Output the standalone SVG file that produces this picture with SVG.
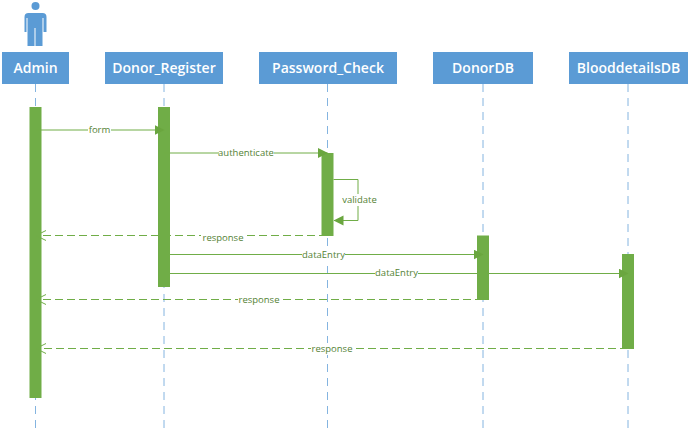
<svg xmlns="http://www.w3.org/2000/svg" width="689" height="435" viewBox="0 0 689 435">
<defs>
<marker id="solid" markerUnits="userSpaceOnUse" markerWidth="12" markerHeight="12" refX="9.5" refY="5" orient="auto"><path d="M0,0 L10,5 L0,10 Z" fill="#6aa63f"/></marker>
<marker id="open" markerUnits="userSpaceOnUse" markerWidth="12" markerHeight="12" refX="10" refY="5" orient="auto"><path d="M0,0 L10,5 L0,10" fill="none" stroke="#70ad47"/></marker>
</defs>
<style>
text{font-family:"Open Sans","Liberation Sans",sans-serif}
.box{fill:#5b9bd5}
.name{fill:#fff;font-size:14px;font-weight:600;text-anchor:middle}
.life{stroke:#5b9bd5;stroke-width:1;stroke-dasharray:8 6;fill:none;opacity:.75}
.bar{fill:#70ad47}
.msg{stroke:#70ad47;stroke-width:1;fill:none}
.dash{stroke-dasharray:8 4}
.lab{fill:#548235;font-size:9.5px;text-anchor:middle}
.bg{fill:#fff}
</style>
<rect width="689" height="435" fill="#fff"/>
<g id="lifelines">
<path class="life" d="M35.5,84V434"/>
<path class="life" d="M164,84V434"/>
<path class="life" d="M327.5,84V434"/>
<path class="life" d="M483,84V434"/>
<path class="life" d="M628,84V434"/>
</g>
<g id="actor-figure" fill="#5b9bd5">
<circle cx="35.5" cy="6" r="4"/>
<path d="M24.5,17q0,-4 4,-4h14q4,0 4,4v15h-3v-14h-1v28h-7v-18h-1v18h-7v-28h-1v14h-2z"/>
</g>
<g id="node-admin"><rect class="box" x="2" y="52" width="67" height="32"/><text class="name" x="35.5" y="73">Admin</text></g>
<g id="node-donor-register"><rect class="box" x="105" y="52" width="118" height="32"/><text class="name" x="164" y="73">Donor_Register</text></g>
<g id="node-password-check"><rect class="box" x="259" y="52" width="138" height="32"/><text class="name" x="328" y="73">Password_Check</text></g>
<g id="node-donordb"><rect class="box" x="433" y="52" width="100" height="32"/><text class="name" x="483" y="73">DonorDB</text></g>
<g id="node-blooddetailsdb"><rect class="box" x="569" y="52" width="119" height="32"/><text class="name" x="628.5" y="73">BlooddetailsDB</text></g>
<g id="activations">
<rect class="bar" x="29.5" y="107" width="12" height="291"/>
<rect class="bar" x="158" y="107" width="12" height="180"/>
<rect class="bar" x="321.5" y="153" width="12" height="83"/>
<rect class="bar" x="477" y="235.5" width="12" height="64.5"/>
<rect class="bar" x="622" y="254" width="12" height="95"/>
</g>
<g id="connectors">
<path class="msg" d="M36,130H164" marker-end="url(#solid)"/>
<path class="msg" d="M164,153H327.5" marker-end="url(#solid)"/>
<path class="msg" d="M333.5,179.500H358V220.500H334" marker-end="url(#solid)"/>
<path class="msg dash" d="M327,235.500H36" marker-end="url(#open)"/>
<path class="msg" d="M164,254.500H483" marker-end="url(#solid)"/>
<path class="msg" d="M164,273.500H628" marker-end="url(#solid)"/>
<path class="msg dash" d="M483,299.500H36" marker-end="url(#open)"/>
<path class="msg dash" d="M628,348.500H36" marker-end="url(#open)"/>
</g>
<g id="labels">
<rect class="bg" x="88" y="124" width="23" height="12"/><text class="lab" x="99.500" y="133">form</text>
<rect class="bg" x="219" y="147" width="55" height="12"/><text class="lab" x="246" y="156">authenticate</text>
<rect class="bg" x="341" y="194" width="37" height="12"/><text class="lab" x="359.500" y="203">validate</text>
<rect class="bg" x="201" y="232" width="44" height="12"/><text class="lab" x="223" y="241">response</text>
<rect class="bg" x="302" y="249" width="43" height="12"/><text class="lab" x="323.500" y="258">dataEntry</text>
<rect class="bg" x="375" y="268" width="43" height="12"/><text class="lab" x="396.500" y="276">dataEntry</text>
<rect class="bg" x="238" y="294" width="42" height="12"/><text class="lab" x="259" y="303">response</text>
<rect class="bg" x="311" y="343" width="42" height="12"/><text class="lab" x="332" y="352">response</text>
</g>
</svg>
